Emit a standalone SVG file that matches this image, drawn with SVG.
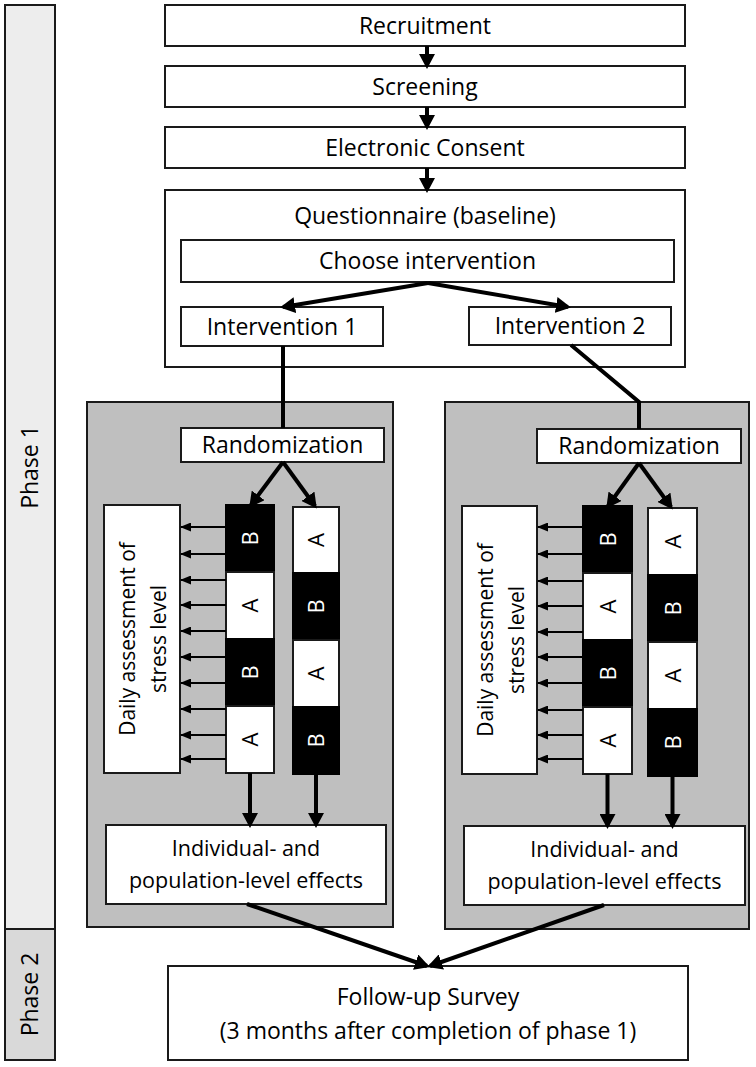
<svg xmlns="http://www.w3.org/2000/svg" width="756" height="1067" viewBox="0 0 756 1067">
<style>
  .box { fill: #ffffff; stroke: #1a1a1a; stroke-width: 2; }
  .panel { fill: #bfbfbf; stroke: #1a1a1a; stroke-width: 2; }
  .blk { fill: #000000; stroke: #000000; stroke-width: 2; }
  .t { font-family: "Open Sans", "Liberation Sans", sans-serif; font-size: 23px; fill: #000000; text-anchor: middle; }
  .te { font-family: "Open Sans", "Liberation Sans", sans-serif; font-size: 21.5px; fill: #000000; text-anchor: middle; }
  .td { font-family: "Open Sans", "Liberation Sans", sans-serif; font-size: 21px; fill: #000000; text-anchor: middle; }
  .lw { font-family: "Open Sans", "Liberation Sans", sans-serif; font-size: 22px; fill: #ffffff; text-anchor: middle; }
  .lb { font-family: "Open Sans", "Liberation Sans", sans-serif; font-size: 22px; fill: #000000; text-anchor: middle; }
  .thick { stroke: #000000; stroke-width: 4; fill: none; }
  .thin { stroke: #000000; stroke-width: 2; fill: none; }
</style>
<defs>
  <marker id="ah" markerUnits="userSpaceOnUse" markerWidth="15" markerHeight="16" refX="12" refY="8" orient="auto" viewBox="0 0 15 16">
    <path d="M0,0 L15,8 L0,16 z" fill="#000000"/>
  </marker>
  <marker id="as" markerUnits="userSpaceOnUse" markerWidth="11" markerHeight="9" refX="10" refY="4.5" orient="auto" viewBox="0 0 11 9">
    <path d="M0,0 L11,4.5 L0,9 z" fill="#000000"/>
  </marker>
</defs>

<g id="phase-bar">
  <rect x="5" y="5" width="50" height="924" fill="#ededed" stroke="#1a1a1a" stroke-width="2"/>
  <rect x="5" y="929" width="50" height="131" fill="#d9d9d9" stroke="#1a1a1a" stroke-width="2"/>
  <text class="t" transform="translate(38,467) rotate(-90)">Phase 1</text>
  <text class="t" transform="translate(38,994.5) rotate(-90)">Phase 2</text>
</g>

<g id="panel-left">
  <rect class="panel" x="87" y="402" width="306" height="525"/>
</g>
<g id="panel-right">
  <rect class="panel" x="445" y="402" width="304" height="527"/>
</g>

<g id="recruitment">
  <rect class="box" x="165" y="5" width="520" height="41"/>
  <text class="t" x="425" y="33.5">Recruitment</text>
</g>
<g id="screening">
  <rect class="box" x="165" y="66" width="520" height="41"/>
  <text class="t" x="425" y="94.5">Screening</text>
</g>
<g id="consent">
  <rect class="box" x="165" y="127" width="520" height="41"/>
  <text class="t" x="425" y="155.5">Electronic Consent</text>
</g>
<g id="questionnaire">
  <rect class="box" x="165" y="190" width="520" height="177"/>
  <text class="t" x="425" y="224">Questionnaire (baseline)</text>
</g>
<g id="choose">
  <rect class="box" x="181" y="240" width="493" height="42"/>
  <text class="t" x="427.5" y="269">Choose intervention</text>
</g>
<g id="intervention1">
  <rect class="box" x="181" y="307" width="202" height="39"/>
  <text class="t" x="282" y="334.5">Intervention 1</text>
</g>
<g id="intervention2">
  <rect class="box" x="469" y="307" width="202" height="38"/>
  <text class="t" x="570" y="334">Intervention 2</text>
</g>

<g id="randomization-left">
  <rect class="box" x="181" y="428" width="203" height="34"/>
  <text class="t" x="282.5" y="453">Randomization</text>
</g>
<g id="daily-left">
  <rect class="box" x="104" y="505" width="76" height="268"/>
  <text class="td" transform="translate(142,639) rotate(-90)"><tspan x="0" y="-7">Daily assessment of</tspan><tspan x="0" y="24">stress level</tspan></text>
</g>
<g id="sequence-left-1">
  <rect class="blk" x="226" y="505" width="48" height="67"/>
  <rect class="box" x="226" y="572" width="48" height="67"/>
  <rect class="blk" x="226" y="639" width="48" height="67"/>
  <rect class="box" x="226" y="706" width="48" height="67"/>
  <text class="lw" transform="translate(258,538.5) rotate(-90)">B</text>
  <text class="lb" transform="translate(258,605.5) rotate(-90)">A</text>
  <text class="lw" transform="translate(258,672.5) rotate(-90)">B</text>
  <text class="lb" transform="translate(258,739.5) rotate(-90)">A</text>
</g>
<g id="sequence-left-2">
  <rect class="box" x="293" y="507" width="46" height="66"/>
  <rect class="blk" x="293" y="573" width="46" height="67"/>
  <rect class="box" x="293" y="640" width="46" height="67"/>
  <rect class="blk" x="293" y="707" width="46" height="67"/>
  <text class="lb" transform="translate(324,540) rotate(-90)">A</text>
  <text class="lw" transform="translate(324,606.5) rotate(-90)">B</text>
  <text class="lb" transform="translate(324,673.5) rotate(-90)">A</text>
  <text class="lw" transform="translate(324,740.5) rotate(-90)">B</text>
</g>
<g id="effects-left">
  <rect class="box" x="106" y="825" width="280" height="79"/>
  <text class="te" x="246" y="856">Individual- and</text>
  <text class="te" x="246" y="888">population-level effects</text>
</g>

<g id="randomization-right">
  <rect class="box" x="537" y="429" width="204" height="34"/>
  <text class="t" x="639" y="454">Randomization</text>
</g>
<g id="daily-right">
  <rect class="box" x="462" y="506" width="75" height="268"/>
  <text class="td" transform="translate(499.5,640) rotate(-90)"><tspan x="0" y="-7">Daily assessment of</tspan><tspan x="0" y="24">stress level</tspan></text>
</g>
<g id="sequence-right-1">
  <rect class="blk" x="583" y="506" width="49" height="67"/>
  <rect class="box" x="583" y="573" width="49" height="67"/>
  <rect class="blk" x="583" y="640" width="49" height="67"/>
  <rect class="box" x="583" y="707" width="49" height="67"/>
  <text class="lw" transform="translate(615.5,539.5) rotate(-90)">B</text>
  <text class="lb" transform="translate(615.5,606.5) rotate(-90)">A</text>
  <text class="lw" transform="translate(615.5,673.5) rotate(-90)">B</text>
  <text class="lb" transform="translate(615.5,740.5) rotate(-90)">A</text>
</g>
<g id="sequence-right-2">
  <rect class="box" x="648" y="508" width="49" height="67"/>
  <rect class="blk" x="648" y="575" width="49" height="67"/>
  <rect class="box" x="648" y="642" width="49" height="67"/>
  <rect class="blk" x="648" y="709" width="49" height="67"/>
  <text class="lb" transform="translate(680.5,541.5) rotate(-90)">A</text>
  <text class="lw" transform="translate(680.5,608.5) rotate(-90)">B</text>
  <text class="lb" transform="translate(680.5,675.5) rotate(-90)">A</text>
  <text class="lw" transform="translate(680.5,742.5) rotate(-90)">B</text>
</g>
<g id="effects-right">
  <rect class="box" x="464" y="826" width="281" height="79"/>
  <text class="te" x="604.5" y="857">Individual- and</text>
  <text class="te" x="604.5" y="889">population-level effects</text>
</g>

<g id="follow-up">
  <rect class="box" x="168" y="966" width="520" height="94"/>
  <text class="t" x="428" y="1005">Follow-up Survey</text>
  <text class="t" x="428" y="1039">(3 months after completion of phase 1)</text>
</g>

<g id="connectors">
  <line class="thick" x1="427" y1="46" x2="427" y2="66" marker-end="url(#ah)"/>
  <line class="thick" x1="427" y1="107" x2="427" y2="127" marker-end="url(#ah)"/>
  <line class="thick" x1="427" y1="168" x2="427" y2="190" marker-end="url(#ah)"/>
  <line class="thick" x1="428" y1="283" x2="283" y2="307" marker-end="url(#ah)"/>
  <line class="thick" x1="428" y1="283" x2="568" y2="307" marker-end="url(#ah)"/>
  <line class="thick" x1="283" y1="346" x2="283" y2="428"/>
  <polyline class="thick" points="571,345 639,402 639,429"/>
  <line class="thick" x1="283" y1="462" x2="251" y2="505" marker-end="url(#ah)"/>
  <line class="thick" x1="283" y1="462" x2="315" y2="506" marker-end="url(#ah)"/>
  <line class="thick" x1="639" y1="463" x2="608" y2="506" marker-end="url(#ah)"/>
  <line class="thick" x1="639" y1="463" x2="671" y2="507" marker-end="url(#ah)"/>
  <g id="daily-arrows-left">
    <line class="thin" x1="226" y1="527" x2="181" y2="527" marker-end="url(#as)"/>
    <line class="thin" x1="226" y1="554" x2="181" y2="554" marker-end="url(#as)"/>
    <line class="thin" x1="226" y1="580" x2="181" y2="580" marker-end="url(#as)"/>
    <line class="thin" x1="226" y1="605" x2="181" y2="605" marker-end="url(#as)"/>
    <line class="thin" x1="226" y1="631" x2="181" y2="631" marker-end="url(#as)"/>
    <line class="thin" x1="226" y1="657" x2="181" y2="657" marker-end="url(#as)"/>
    <line class="thin" x1="226" y1="683" x2="181" y2="683" marker-end="url(#as)"/>
    <line class="thin" x1="226" y1="709" x2="181" y2="709" marker-end="url(#as)"/>
    <line class="thin" x1="226" y1="735" x2="181" y2="735" marker-end="url(#as)"/>
    <line class="thin" x1="226" y1="759" x2="181" y2="759" marker-end="url(#as)"/>
  </g>
  <g id="daily-arrows-right">
    <line class="thin" x1="583" y1="527" x2="538" y2="527" marker-end="url(#as)"/>
    <line class="thin" x1="583" y1="554" x2="538" y2="554" marker-end="url(#as)"/>
    <line class="thin" x1="583" y1="581" x2="538" y2="581" marker-end="url(#as)"/>
    <line class="thin" x1="583" y1="606" x2="538" y2="606" marker-end="url(#as)"/>
    <line class="thin" x1="583" y1="632" x2="538" y2="632" marker-end="url(#as)"/>
    <line class="thin" x1="583" y1="657" x2="538" y2="657" marker-end="url(#as)"/>
    <line class="thin" x1="583" y1="683" x2="538" y2="683" marker-end="url(#as)"/>
    <line class="thin" x1="583" y1="710" x2="538" y2="710" marker-end="url(#as)"/>
    <line class="thin" x1="583" y1="735" x2="538" y2="735" marker-end="url(#as)"/>
    <line class="thin" x1="583" y1="759" x2="538" y2="759" marker-end="url(#as)"/>
  </g>
  <line class="thick" x1="250" y1="773" x2="250" y2="825" marker-end="url(#ah)"/>
  <line class="thick" x1="316" y1="774" x2="316" y2="825" marker-end="url(#ah)"/>
  <line class="thick" x1="607.5" y1="774" x2="607.5" y2="826" marker-end="url(#ah)"/>
  <line class="thick" x1="672.5" y1="776" x2="672.5" y2="826" marker-end="url(#ah)"/>
  <line class="thick" x1="247" y1="904" x2="427" y2="966" marker-end="url(#ah)"/>
  <line class="thick" x1="604" y1="905" x2="430" y2="966" marker-end="url(#ah)"/>
</g>
</svg>
